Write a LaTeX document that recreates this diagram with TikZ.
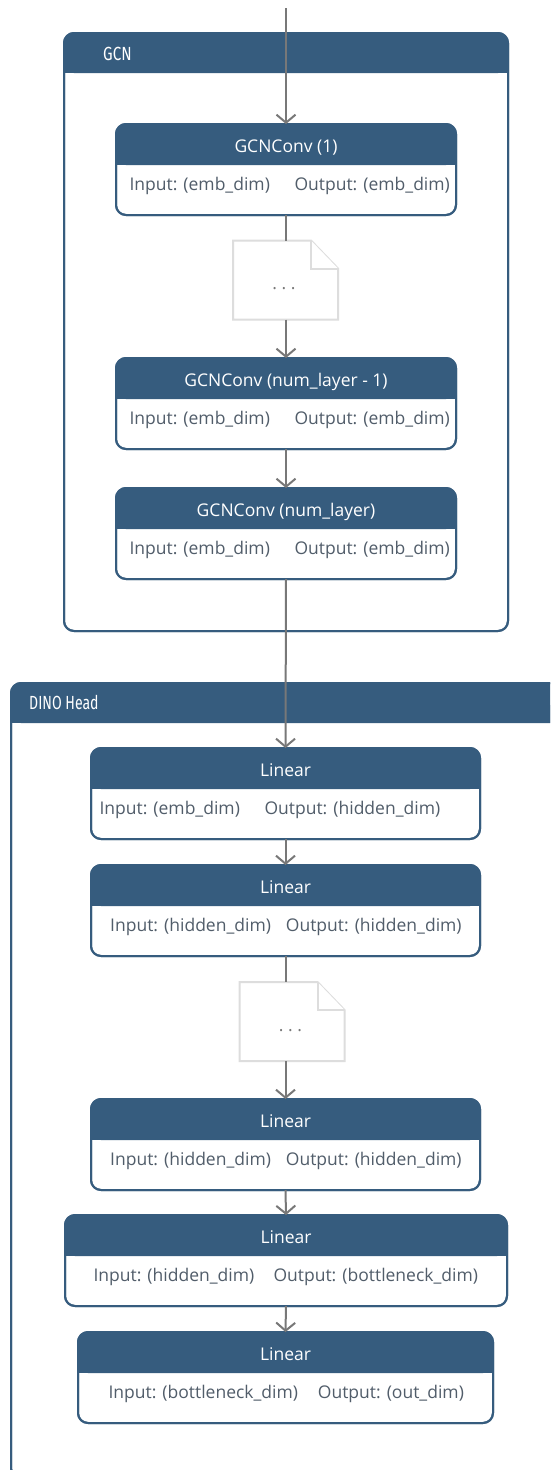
\documentclass[tikz,border=0pt]{standalone}
\usepackage{fontspec}
\usepackage{graphicx}
\setmainfont{Open Sans}
\newfontfamily\headfont{Fira Sans}
\usetikzlibrary{arrows.meta,calc}

\definecolor{navy}{HTML}{365C7E}
\definecolor{wire}{HTML}{787878}
\definecolor{bodytxt}{HTML}{515D6A}
\definecolor{paper}{HTML}{DDDDDD}

\tikzset{
  x=1pt, y=1pt,
  frame/.style={draw=navy, line width=2pt, rounded corners=10pt, fill=white},
  card/.style={rectangle, draw=navy, line width=2pt, rounded corners=10pt,
    fill=white, inner sep=0pt, outer sep=0pt, anchor=north},
  cardtitle/.style={text=white, font=\fontsize{17.5}{20}\selectfont,
    inner sep=0pt, anchor=base},
  cardtext/.style={text=bodytxt, font=\fontsize{17.5}{20}\selectfont,
    inner sep=0pt, anchor=base west},
  frametitle/.style={text=white, font=\headfont\fontsize{19}{22}\selectfont,
    inner sep=0pt, anchor=base west},
  flow/.style={draw=wire, line width=2pt, -{Straight Barb[length=8pt,width=19pt]}},
  link/.style={draw=wire, line width=2pt},
  sheet/.style={draw=paper, line width=2pt, fill=white, line join=miter},
  sheetbox/.style={rectangle, inner sep=0pt, outer sep=0pt,
    minimum width=105pt, minimum height=79pt},
  dots/.style={text=wire, font=\fontsize{17.5}{20}\selectfont, inner sep=0pt},
}

% a layer card: name, centre x, top y, width, title, input x, input, output x, output
\newcommand\layercard[9]{%
  \node[card, minimum width=#4, minimum height=91pt] (#1) at (#2,-#3) {};
  \fill[navy, rounded corners=10pt] (#1.north west) rectangle ([yshift=-41pt]#1.north east);
  \fill[navy] ([yshift=-20pt]#1.north west) rectangle ([yshift=-41pt]#1.north east);
  \draw[navy, line width=2pt, rounded corners=10pt] (#1.north west) rectangle (#1.south east);
  \node[cardtitle] (#1-t) at ($(#1.north)+(0,-28)$) {#5};
  \node[cardtext] (#1-i) at (#6,-#3-66) {#7};
  \node[cardtext] (#1-o) at (#8,-#3-66) {#9};
}

% a folded sheet standing for the omitted layers
\newcommand\foldsheet[3]{%
  \node[sheetbox] (#1) at (#2,-#3) {};
  \draw[sheet] (#1.south west) -- (#1.north west) -- ([xshift=-27pt]#1.north east)
    -- ([yshift=-28pt]#1.north east) -- (#1.south east) -- cycle;
  \draw[sheet] ([xshift=-27pt]#1.north east) |- ([yshift=-28pt]#1.north east);
  \node[dots] (#1-d) at ($(#1.center)+(-1.5,-9)$) {.\hspace{4.6pt}.\hspace{4.6pt}.};
}

\begin{document}
\begin{tikzpicture}
  \useasboundingbox (0,0) rectangle (550,-1470);
  \clip (0,0) rectangle (550,-1470);
  \fill[white] (0,0) rectangle (550,-1470);

  % GCN frame
  \draw[frame] (64,-33) rectangle (508,-631);
  \fill[navy, rounded corners=10pt] (64,-33) rectangle (508,-73);
  \fill[navy] (64,-55) rectangle (508,-73);
  \draw[navy, line width=2pt, rounded corners=10pt] (64,-33) rectangle (508,-631);
  \node[frametitle] (gcn-title) at (103,-60) {\scalebox{0.8}[1]{GCN}};

  % DINO Head frame (runs past the right and bottom edges)
  \draw[frame] (11,-683) rectangle (600,-1478);
  \fill[navy, rounded corners=10pt] (11,-683) rectangle (600,-723);
  \fill[navy] (11,-705) rectangle (600,-723);
  \draw[navy, line width=2pt, rounded corners=10pt] (11,-683) rectangle (600,-1478);
  \node[frametitle] (dino-title) at (29,-709) {\scalebox{0.74}[1]{DINO Head}};

  % GCN layers
  \layercard{g1}{286}{124}{340pt}{GCNConv (1)}{129.3}{Input: (emb\_dim)}{294.3}{Output: (emb\_dim)}
  \foldsheet{s1}{285.5}{280}
  \layercard{g2}{286}{358}{340pt}{GCNConv (num\_layer - 1)}{129.3}{Input: (emb\_dim)}{294.3}{Output: (emb\_dim)}
  \layercard{g3}{286}{488}{340pt}{GCNConv (num\_layer)}{129.3}{Input: (emb\_dim)}{294.3}{Output: (emb\_dim)}

  % DINO head layers
  \layercard{l1}{285.5}{748}{389pt}{Linear}{99.3}{Input: (emb\_dim)}{264.3}{Output: (hidden\_dim)}
  \layercard{l2}{285.5}{865}{389pt}{Linear}{110}{Input: (hidden\_dim)}{285.7}{Output: (hidden\_dim)}
  \foldsheet{s2}{292}{1021.5}
  \layercard{l3}{285.5}{1099}{389pt}{Linear}{110}{Input: (hidden\_dim)}{285.7}{Output: (hidden\_dim)}
  \layercard{l4}{286}{1215}{442pt}{Linear}{93.3}{Input: (hidden\_dim)}{273.3}{Output: (bottleneck\_dim)}
  \layercard{l5}{285.5}{1332}{415pt}{Linear}{108.3}{Input: (bottleneck\_dim)}{317.7}{Output: (out\_dim)}

  % connectors
  \coordinate (in) at (286,-8);
  \draw[flow] (in) -- (g1.north);
  \draw[link] (g1.south) -- (g1.south |- s1.north);
  \draw[flow] (g2.north |- s1.south) -- (g2.north);
  \draw[flow] (g2.south) -- (g3.north);
  \draw[flow] (g3.south) -- (l1.north);
  \draw[flow] (l1.south) -- (l2.north);
  \draw[link] (l2.south) -- (l2.south |- s2.north);
  \draw[flow] (l3.north |- s2.south) -- (l3.north);
  \draw[flow] (l3.south) -- (l4.north);
  \draw[flow] (l4.south) -- (l5.north);
\end{tikzpicture}
\end{document}
